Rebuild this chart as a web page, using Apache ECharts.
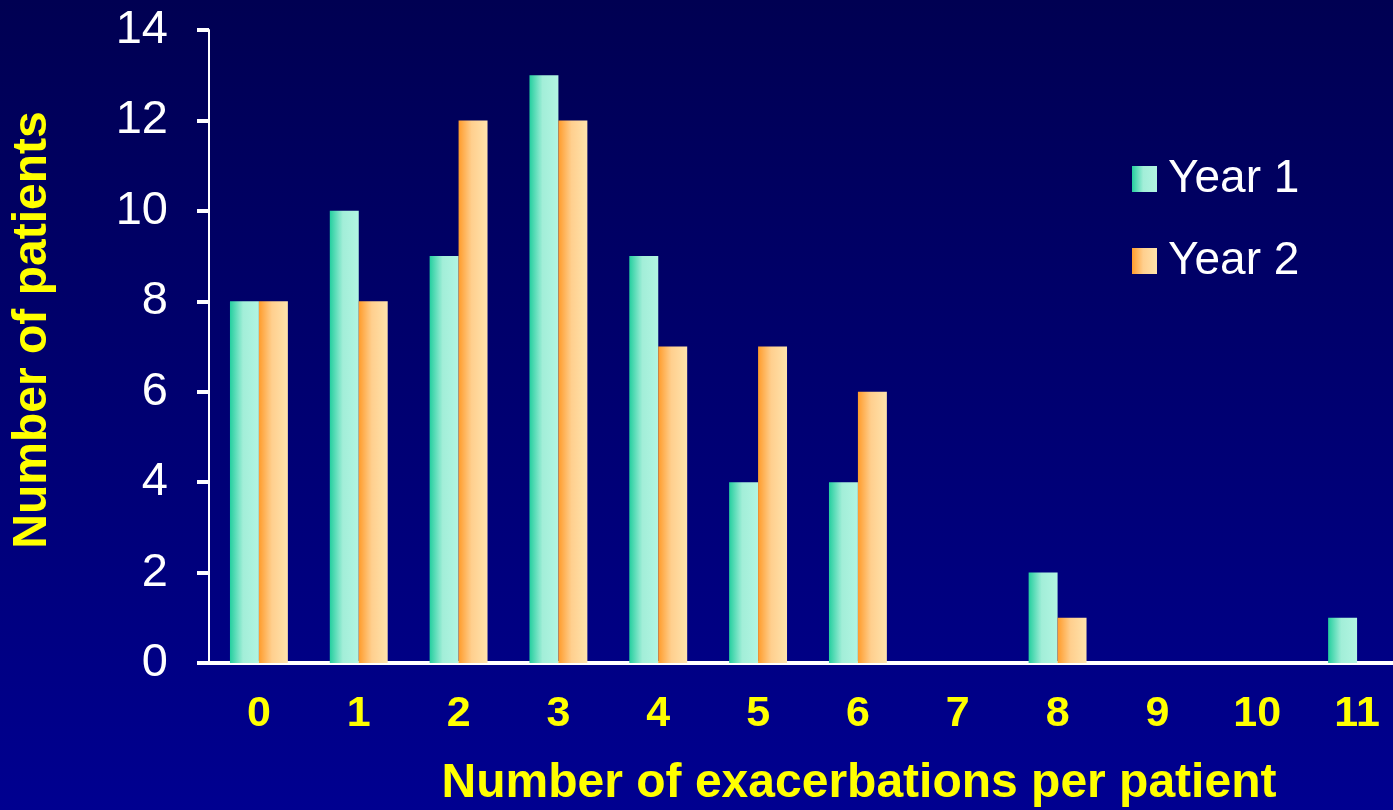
<!DOCTYPE html>
<html>
<head>
<meta charset="utf-8">
<style>
  html, body { margin: 0; padding: 0; }
  #chart { width: 1393px; height: 810px; }
</style>
<script src="https://cdn.jsdelivr.net/npm/echarts@6/dist/echarts.min.js"></script>
</head>
<body>
<div id="chart"></div>
<script>
// Exacerbations per patient, counted separately for each study year
const categories = ['0', '1', '2', '3', '4', '5', '6', '7', '8', '9', '10', '11'];
const year1 = [8, 10, 9, 13, 9, 4, 4, 0, 2, 0, 0, 1];
const year2 = [8, 8, 12, 12, 7, 7, 6, 0, 1, 0, 0, 0];
const seriesNames = ['Year 1', 'Year 2'];
const xTitle = 'Number of exacerbations per patient';
const yTitle = 'Number of patients';

const FONT = 'Arial, "Liberation Sans", Helvetica, sans-serif';

function hGrad(stops) {
  return {
    type: 'linear', x: 0, y: 0, x2: 1, y2: 0,
    colorStops: stops.map(([o, c]) => ({ offset: o, color: c }))
  };
}

const greenFill = hGrad([[0, '#25cf9f'], [0.45, '#a2eed8'], [1, '#b2f5e2']]);
const orangeFill = hGrad([[0, '#ff9c2c'], [0.45, '#ffcf8e'], [1, '#ffe3ac']]);

const chart = echarts.init(document.getElementById('chart'), null, { renderer: 'canvas' });

chart.setOption({
  animation: false,
  backgroundColor: {
    type: 'linear', x: 0, y: 0, x2: 0, y2: 1,
    colorStops: [
      { offset: 0, color: '#000052' },
      { offset: 1, color: '#000090' }
    ]
  },
  grid: {
    left: 209, top: 30, right: -14, bottom: 147,
    containLabel: false,
    outerBoundsMode: 'none'
  },
  legend: {
    data: seriesNames,
    orient: 'vertical',
    left: 1127, top: 151,
    itemWidth: 25, itemHeight: 26,
    itemGap: 36,
    icon: 'rect',
    textStyle: { color: '#ffffff', fontSize: 46, fontFamily: FONT, padding: [0, 0, 0, 6] }
  },
  graphic: [
    {
      type: 'text',
      x: 33, y: 330,
      rotation: Math.PI / 2,
      style: {
        text: yTitle,
        fill: '#ffff00',
        font: 'bold 48px ' + FONT,
        align: 'center',
        verticalAlign: 'middle'
      }
    },
    {
      type: 'text',
      x: 859, y: 784,
      style: {
        text: xTitle,
        fill: '#ffff00',
        font: 'bold 48px ' + FONT,
        align: 'center',
        verticalAlign: 'middle'
      }
    }
  ],
  xAxis: {
    type: 'category',
    data: categories,
    axisLine: { lineStyle: { color: '#ffffff', width: 4 } },
    axisTick: { show: false },
    axisLabel: {
      color: '#ffff00', fontSize: 43, fontWeight: 'bold', fontFamily: FONT,
      margin: 30, interval: 0
    },
    splitLine: { show: false }
  },
  yAxis: {
    type: 'value',
    min: 0, max: 14, interval: 2,
    axisLine: { show: true, lineStyle: { color: '#ffffff', width: 2 } },
    axisTick: { show: true, inside: false, length: 12, lineStyle: { color: '#ffffff', width: 4 } },
    axisLabel: { color: '#ffffff', fontSize: 47, fontFamily: FONT, margin: 41 },
    splitLine: { show: false }
  },
  series: [
    {
      name: seriesNames[0],
      type: 'bar',
      data: year1,
      barGap: '0%',
      barCategoryGap: '42%',
      itemStyle: { color: greenFill }
    },
    {
      name: seriesNames[1],
      type: 'bar',
      data: year2,
      barGap: '0%',
      barCategoryGap: '42%',
      itemStyle: { color: orangeFill }
    }
  ]
});
</script>
</body>
</html>
